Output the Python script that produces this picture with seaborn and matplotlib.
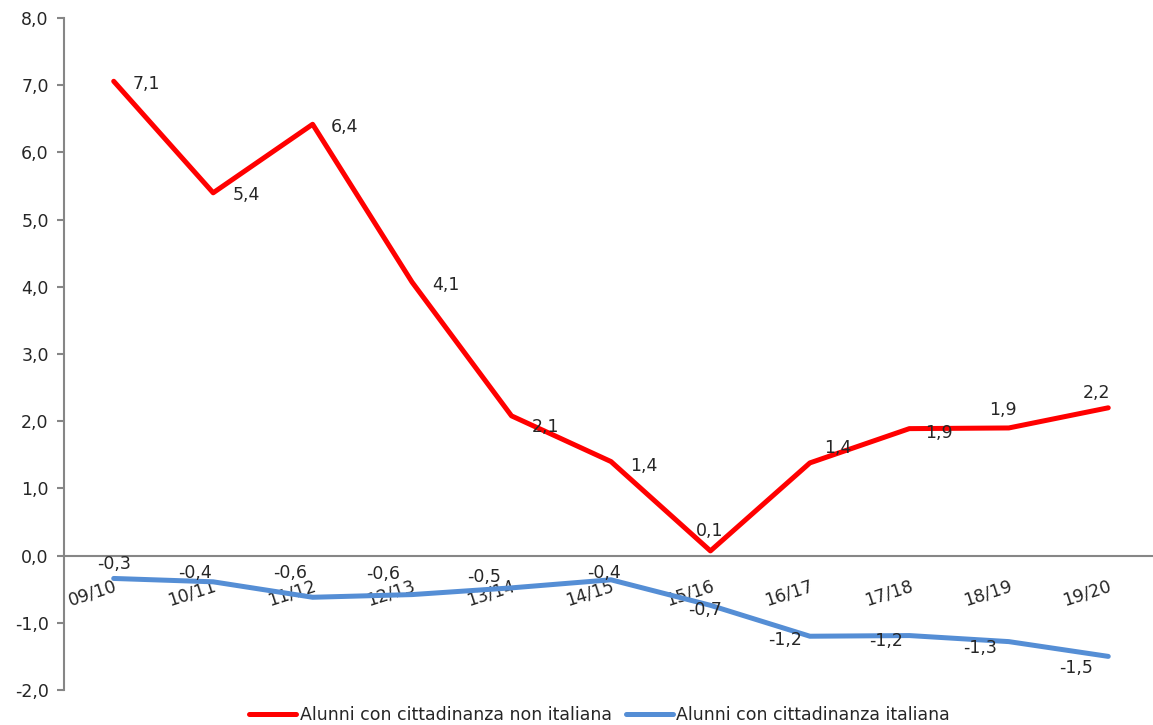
import matplotlib
matplotlib.use("Agg")
import matplotlib.pyplot as plt
import seaborn as sns
import pandas as pd
import numpy as np
from matplotlib.ticker import FuncFormatter, MultipleLocator
from matplotlib.lines import Line2D

# ---- data ----
categories = ["09/10", "10/11", "11/12", "12/13", "13/14", "14/15",
              "15/16", "16/17", "17/18", "18/19", "19/20"]
non_italiana = [7.06, 5.40, 6.42, 4.07, 2.08, 1.40, 0.07, 1.38, 1.89, 1.90, 2.20]
italiana = [-0.34, -0.39, -0.62, -0.58, -0.48, -0.36, -0.74, -1.20, -1.19, -1.28, -1.50]
series_names = ["Alunni con cittadinanza non italiana", "Alunni con cittadinanza italiana"]

# label offsets of the label centre from the point, in pixels (style only)
off_red_px = [(33, -3), (33, -2), (32, -3), (34, -3), (34, -11), (33, -4),
              (-1, 20), (28, 15), (30, -4), (-6, 18), (-12, 15)]
off_blue_px = [(0, 14), (-18, 9), (-22, 24), (-29, 21), (-27, 11), (-7, 7),
               (-5, -5), (-25, -4), (-23, -5), (-29, -6), (-32, -12)]

RED = "#FF0000"
BLUE = "#558ED5"
GRAY = "#868686"
TXT = "#262626"
FS = 12.5

sns.set_theme(style="white")
plt.rcParams["font.family"] = ["DejaVu Sans"]

df = pd.DataFrame({
    "idx": list(range(len(categories))) * 2,
    "val": non_italiana + italiana,
    "serie": [series_names[0]] * len(categories) + [series_names[1]] * len(categories),
})

fig = plt.figure(figsize=(11.53, 7.25), dpi=100)
ax = fig.add_axes([0.0555, 0.0483, 0.9445, 0.9267])

sns.lineplot(data=df, x="idx", y="val", hue="serie",
             palette={series_names[0]: RED, series_names[1]: BLUE},
             linewidth=3.6, legend=False, ax=ax, sort=True)

ax.set_xlim(-0.5, 10.45)
ax.set_ylim(-2, 8)
ax.yaxis.set_major_locator(MultipleLocator(1))
ax.yaxis.set_major_formatter(FuncFormatter(lambda v, p: f"{v:.1f}".replace(".", ",")))
ax.set_xlabel("")
ax.set_ylabel("")

for s in ["top", "right"]:
    ax.spines[s].set_visible(False)
ax.spines["bottom"].set_position(("data", 0))
ax.spines["bottom"].set_color(GRAY)
ax.spines["left"].set_color(GRAY)
ax.spines["bottom"].set_linewidth(1.5)
ax.spines["left"].set_linewidth(1.5)

ax.set_xticks(range(len(categories)))
ax.set_xticklabels(categories)
ax.tick_params(axis="x", length=0, pad=15, labelsize=FS, labelcolor=TXT)
ax.tick_params(axis="y", direction="out", length=5, width=1.5, color=GRAY,
               left=True, pad=6, labelsize=FS, labelcolor=TXT)
for lab in ax.get_xticklabels():
    lab.set_rotation(18)
    lab.set_ha("right")
    lab.set_va("top")
    lab.set_rotation_mode("anchor")

k = 0.72  # px -> pt at 100 dpi
for i, v in enumerate(non_italiana):
    dx, dy = off_red_px[i]
    ax.annotate(f"{v:.1f}".replace(".", ","), (i, v), xytext=(dx * k, dy * k),
                textcoords="offset points", ha="center", va="center",
                fontsize=FS, color=TXT)
for i, v in enumerate(italiana):
    dx, dy = off_blue_px[i]
    ax.annotate(f"{v:.1f}".replace(".", ","), (i, v), xytext=(dx * k, dy * k),
                textcoords="offset points", ha="center", va="center",
                fontsize=FS, color=TXT)

handles = [Line2D([0], [0], color=RED, lw=3.6), Line2D([0], [0], color=BLUE, lw=3.6)]
fig.legend(handles, series_names, loc="lower center", bbox_to_anchor=(0.52, -0.02),
           ncol=2, frameon=False, fontsize=FS, handlelength=2.7,
           handletextpad=0.2, columnspacing=0.8, labelcolor=TXT)

fig.savefig("out.png", dpi=100)
